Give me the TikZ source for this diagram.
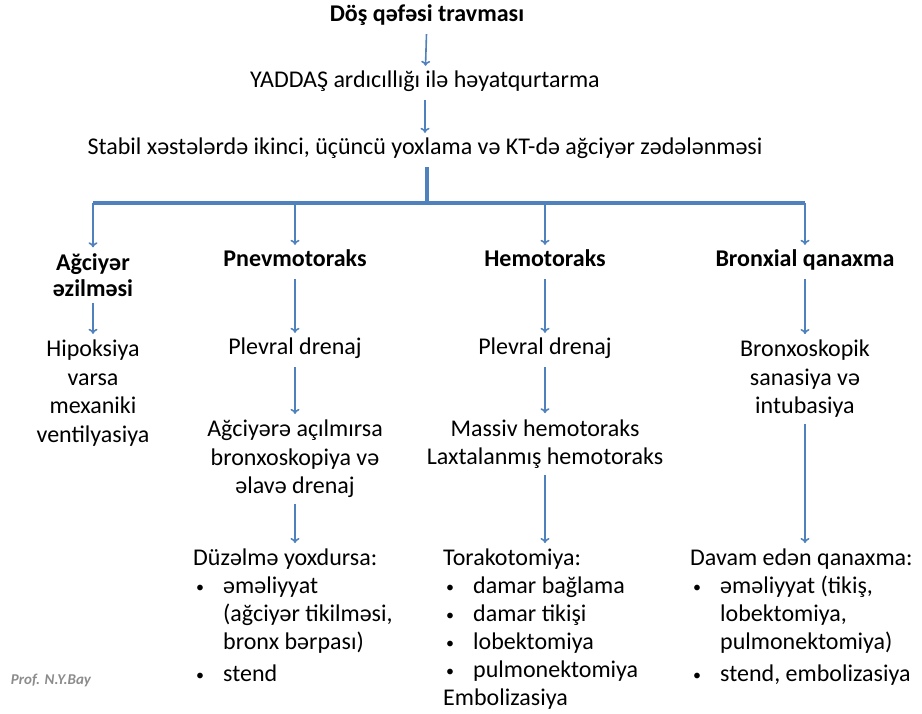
\documentclass[tikz,border=0pt]{standalone}
\usepackage{fontspec}
\setmainfont{Carlito}
\usepackage{tikz}
\usetikzlibrary{arrows.meta}

\definecolor{flowblue}{RGB}{79,129,189}
\newcommand{\itm}[1]{\hspace{3pt}\makebox[27pt][l]{\raisebox{1.5pt}{\fontsize{16}{16}\selectfont\textbullet}}#1}
\newcommand{\cnt}[1]{\hspace{30pt}#1}

\begin{document}
\begin{tikzpicture}[
      x=1pt,
      y=-1pt,
      every node/.style={
        font=\fontsize{24}{28.5}\selectfont,
        inner xsep=0pt,
        inner ysep=6pt
      },
      step text/.style={align=center},
      one line/.style={text height=15pt, text depth=7pt},
      header/.style={align=center, font=\fontsize{24}{26}\selectfont\bfseries},
      listtext/.style={align=left, anchor=north west, font=\fontsize{24}{28}\selectfont},
      flow/.style={
        -{To[length=5pt,width=9pt]},
        draw=flowblue,
        line width=1.6pt
      },
      trunk/.style={draw=flowblue, line width=3.2pt},
      signature/.style={
        font=\fontsize{15}{17}\selectfont\bfseries\itshape,
        text=black!45
      }
    ]
    \useasboundingbox (0,0) rectangle (922,713);

    \node[header, one line] (trauma) at (427,17) {Döş qəfəsi travması};
    \node[step text, one line] (yaddas) at (425,83) {YADDAŞ ardıcıllığı ilə həyatqurtarma};
    \node[step text, one line] (stabil) at (425,150)
      {Stabil xəstələrdə ikinci, üçüncü yoxlama və KT-də ağciyər zədələnməsi};

    \coordinate (split) at (427,203);

    \node[header] (crush) at (93,275) {Ağciyər\\əzilməsi};
    \node[header, one line] (pneumo) at (295,262) {Pnevmotoraks};
    \node[header, one line] (hemo) at (545,262) {Hemotoraks};
    \node[header, one line] (bleed) at (805,262) {Bronxial qanaxma};

    \node[step text] (hypoxia) at (93,393)
      {Hipoksiya\\varsa\\mexaniki\\ventilyasiya};

    \node[step text, one line] (drainP) at (295,350) {Plevral drenaj};
    \node[step text] (bronchoP) at (295,459)
      {Ağciyərə açılmırsa\\bronxoskopiya və\\əlavə drenaj};
    \node[listtext] (listP) at (193,543) {%
      Düzəlmə yoxdursa:\\
      \itm{əməliyyat}\\
      \cnt{(ağciyər tikilməsi,}\\
      \cnt{bronx bərpası)}\\[4pt]
      \itm{stend}};

    \node[step text, one line] (drainH) at (545,350) {Plevral drenaj};
    \node[step text] (massive) at (545,444)
      {Massiv hemotoraks\\Laxtalanmış hemotoraks};
    \node[listtext] (listH) at (443,543) {%
      Torakotomiya:\\
      \itm{damar bağlama}\\
      \itm{damar tikişi}\\
      \itm{lobektomiya}\\
      \itm{pulmonektomiya}\\
      Embolizasiya};

    \node[step text] (sanation) at (805,379)
      {Bronxoskopik\\sanasiya və\\intubasiya};
    \node[listtext] (listB) at (690,543) {%
      Davam edən qanaxma:\\
      \itm{əməliyyat (tikiş,}\\
      \cnt{lobektomiya,}\\
      \cnt{pulmonektomiya)}\\[4pt]
      \itm{stend, embolizasiya}};

    \node[signature] (author) at (51,680) {Prof. N.Y.Bay};

    \draw[flow] (trauma) -- (yaddas);
    \draw[flow] (yaddas) -- (stabil);
    \draw[trunk] (stabil.south -| split) -- (split);
    \draw[trunk] (crush |- split) -- (bleed |- split);
    \draw[flow] (crush |- split) -- (crush);
    \draw[flow] (pneumo |- split) -- (pneumo);
    \draw[flow] (hemo |- split) -- (hemo);
    \draw[flow] (bleed |- split) -- (bleed);

    \draw[flow] (crush) -- (hypoxia);

    \draw[flow] (pneumo) -- (drainP);
    \draw[flow] (drainP) -- (bronchoP);
    \draw[flow] (bronchoP) -- (bronchoP |- listP.north);

    \draw[flow] (hemo) -- (drainH);
    \draw[flow] (drainH) -- (massive);
    \draw[flow] (massive) -- (massive |- listH.north);

    \draw[flow] (bleed) -- (sanation);
    \draw[flow] (sanation) -- (sanation |- listB.north);
  \end{tikzpicture}
\end{document}
